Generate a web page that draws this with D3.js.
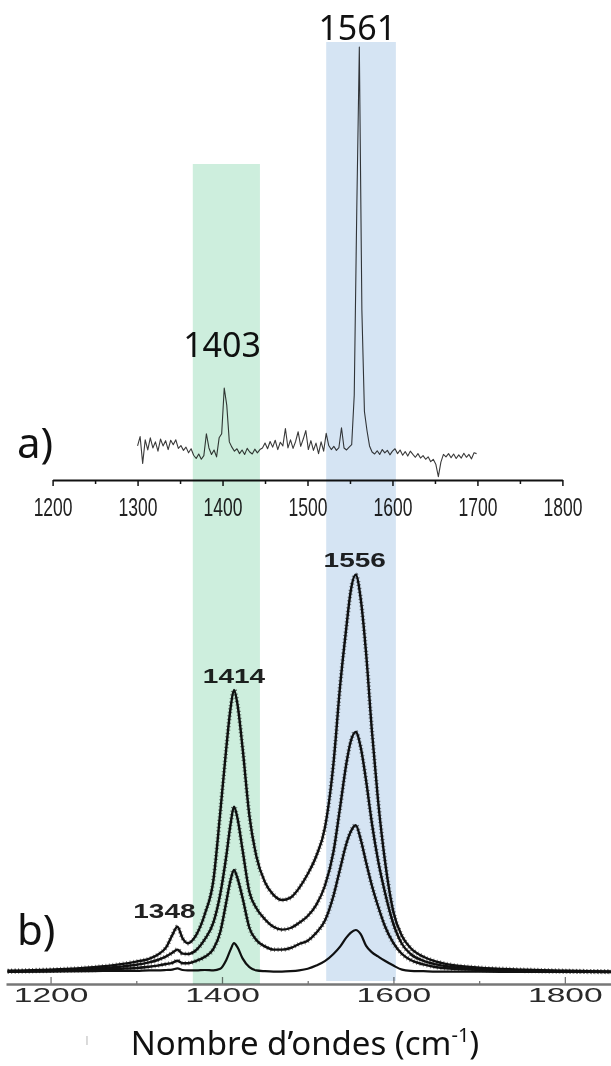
<!DOCTYPE html>
<html>
<head>
<meta charset="utf-8">
<script src="https://cdn.jsdelivr.net/npm/d3@7"></script>
<style>
  body { margin: 0; background: #fff; }
  svg { display: block; }
</style>
</head>
<body>
<div id="chart"></div>
<script>
// ---- a) spectrum, sampled every 3 cm-1 starting at 1300
const aStart = 1300, aStep = 3;
const aIntensity = [
  1.5, 3.8, -2.8, 3.0, 0.5, 3.5, 1.0, 2.5, 0.2, 3.2,
  1.5, 2.8, 0.6, 2.9, 1.8, 3.0, 0.9, 1.6, 0.4, 1.2,
  -0.2, 0.8, -0.8, -1.6, -0.5, -1.8, -0.9, 4.5, 1.0, -0.6,
  0.5, -1.2, 3.5, 4.5, 15.8, 11.5, 2.5, 1.2, 0.2, 0.8,
  -0.4, 0.5, -0.6, 0.9, 0.0, -0.5, 0.7, -0.2, 0.6, 1.0,
  2.2, 0.8, 2.6, 1.2, 2.9, 0.6, 2.4, 1.5, 5.8, 1.0,
  3.0, 0.9, 2.6, 5.0, 1.4, 3.2, 5.3, 0.6, 2.8, 0.4,
  2.2, -0.4, 2.5, 0.2, 4.6, 1.6, 0.6, 1.4, 0.4, 1.1,
  6.0, 1.0, 0.5, 1.2, 1.8, 14, 60, 100, 35, 10,
  5.3, 1.5, 0.0, -0.5, 0.3, -0.6, 0.6, -0.2, 0.4, -0.7,
  0.2, 0.8, -0.4, 0.5, -0.8, 0.1, -1.0, 0.2, -0.6, -1.3,
  -0.4, -1.5, -0.9, -1.8, -1.2, -2.4, -1.8, -3.0, -6.1, -2.5,
  -0.6, -1.2, -0.4, -1.4, -0.5, -1.6, -0.7, -1.5, -0.3, -1.3,
  -0.6, -1.7, -0.2, -0.4
];
const aTicks = [1200, 1300, 1400, 1500, 1600, 1700, 1800];
const aMinorTicks = [1250, 1350, 1450, 1550, 1650, 1750];
const aPeaks = [1561, 1403];

// ---- b) spectra (4 curves)
const bWavenumbers = [1150, 1200, 1250, 1280, 1300, 1315, 1325, 1335, 1342, 1348,
  1354, 1360, 1370, 1380, 1390, 1398, 1405, 1410, 1414, 1418,
  1424, 1432, 1440, 1450, 1460, 1470, 1480, 1490, 1500, 1510,
  1520, 1530, 1538, 1545, 1550, 1556, 1562, 1568, 1575, 1582,
  1590, 1600, 1610, 1620, 1635, 1650, 1670, 1700, 1750, 1800, 1855];
const bCurve1 = [0.3, 0.6, 1.2, 1.9, 2.6, 3.3, 4.3, 6.2, 9.2, 11.3,
  8.4, 7.2, 9.3, 14.5, 23, 40, 56, 66, 70.5, 67,
  56, 39, 29, 22.5, 19.3, 18, 18.6, 21, 24.5, 29,
  36, 52, 72, 86, 95, 99.3, 93, 80, 60, 43,
  28, 15, 9, 6, 3.8, 2.6, 1.7, 1.1, 0.6, 0.3, 0.1];
const bCurve2 = [0.2, 0.4, 0.8, 1.3, 1.8, 2.4, 3.0, 3.9, 4.8, 5.6,
  4.6, 4.5, 5.5, 8.2, 12.4, 19.5, 29, 37, 41.3, 38.5,
  30.5, 20, 16, 13.2, 11.3, 10.6, 11, 12.3, 14, 16.8,
  21.5, 30, 41.5, 52, 57.5, 60, 56, 48, 37, 28,
  20, 12, 7, 4.5, 2.8, 1.9, 1.2, 0.8, 0.4, 0.2, 0.1];
const bCurve3 = [0.1, 0.3, 0.5, 0.8, 1.0, 1.3, 1.6, 2.0, 2.3, 2.8,
  2.2, 2.2, 2.8, 3.8, 5.8, 10, 17.5, 23, 25.5, 23.5,
  18.5, 11, 8, 6.4, 5.6, 5.6, 6, 7, 7.8, 9.8,
  12.8, 19, 26, 32, 35, 36.7, 33, 27.5, 21.5, 16.5,
  11.5, 7.2, 4.5, 3.0, 1.9, 1.2, 0.8, 0.5, 0.3, 0.1, 0.0];
const bCurve4 = [0, 0.1, 0.2, 0.3, 0.3, 0.4, 0.4, 0.5, 0.6, 0.9,
  0.5, 0.4, 0.4, 0.5, 0.4, 0.8, 3.0, 5.6, 7.2, 6.2,
  3.4, 1.2, 0.4, 0.2, 0.1, 0.1, 0.2, 0.4, 0.8, 1.6,
  2.7, 4.5, 6.4, 8.6, 9.8, 10.5, 9.4, 6.6, 4.9, 3.9,
  2.8, 1.6, 0.6, 0.3, 0.2, 0.1, 0.1, 0.1, 0, 0, 0];
const bTicks = [1200, 1400, 1600, 1800];
const bMinorTicks = [1300, 1500, 1700];
const bPeaks = [1556, 1414, 1348];

// ---- highlighted bands, in cm-1 of the a) axis
const bandFrom = [1365, 1522];
const bandTo = [1444, 1604];
const bandColors = ["#cdeedd", "#d5e4f3"];

const width = 611, height = 1066;
const svg = d3.select("#chart").append("svg")
    .attr("width", width)
    .attr("height", height);

const xA = d3.scaleLinear().domain([1200, 1800]).range([52.6, 562.4]);
const yA = d3.scaleLinear().domain([0, 100]).range([452, 47]);
const xB = d3.scaleLinear().domain([1148, 1855]).range([6, 612]);
const yB = d3.scaleLinear().domain([0, 100]).range([972, 572]);

// ---- a) trace
const aData = aIntensity.map((v, i) => [aStart + i * aStep, v]);
svg.append("path")
    .datum(aData)
    .attr("fill", "none")
    .attr("stroke", "#3a3a3a")
    .attr("stroke-width", 1.1)
    .attr("stroke-linejoin", "round")
    .attr("d", d3.line().x(d => xA(d[0])).y(d => yA(d[1])));

// a) axis
const axisA = svg.append("g").attr("transform", "translate(0,480)")
    .call(d3.axisBottom(xA).tickValues(aTicks).tickSize(6).tickSizeOuter(0)
        .tickPadding(12).tickFormat(d3.format("d")));
axisA.select(".domain").attr("stroke", "#111").attr("stroke-width", 1.8);
axisA.selectAll(".tick line").attr("stroke", "#111").attr("stroke-width", 1.5);
axisA.selectAll(".tick text")
    .attr("font-family", "'Liberation Sans', Arial, sans-serif")
    .attr("font-size", 25)
    .attr("fill", "#222")
    .attr("transform", "scale(0.7,1)");
const axisAMinor = svg.append("g").attr("transform", "translate(0,480)")
    .call(d3.axisBottom(xA).tickValues(aMinorTicks).tickSize(4).tickSizeOuter(0).tickFormat(""));
axisAMinor.select(".domain").remove();
axisAMinor.selectAll(".tick line").attr("stroke", "#111").attr("stroke-width", 1.5);

// a) labels
const aLabelY = [40, 357];
const aLabelDx = [-2, -3];
svg.selectAll(".peakA").data(aPeaks).enter().append("text")
    .attr("class", "peakA")
    .attr("x", (d, i) => xA(d) + aLabelDx[i])
    .attr("y", (d, i) => aLabelY[i])
    .attr("text-anchor", "middle")
    .attr("font-family", "'Noto Sans', sans-serif")
    .attr("font-size", 34)
    .attr("fill", "#111")
    .text(d => d);

// ---- b) curves
const lineB = d3.line().x(d => xB(d[0])).y(d => yB(d[1])).curve(d3.curveMonotoneX);
[bCurve1, bCurve2, bCurve3, bCurve4].forEach((vals, k) => {
    const pts = bWavenumbers.map((w, i) => [w, vals[i]]);
    svg.append("path")
        .datum(pts)
        .attr("fill", "none")
        .attr("stroke", "#111")
        .attr("stroke-width", k < 3 ? 2.4 : 2.2)
        .attr("stroke-linejoin", "round")
        .attr("d", lineB);
    if (k < 3) {
        // marker texture of the measured points
        svg.append("path")
            .datum(pts)
            .attr("fill", "none")
            .attr("stroke", "#111")
            .attr("stroke-width", 4.6)
            .attr("stroke-dasharray", "0.9 2.6")
            .attr("opacity", 0.55)
            .attr("d", lineB);
    }
});

// b) axis (ticks pointing up)
const axisB = svg.append("g").attr("transform", "translate(0,984)")
    .call(d3.axisBottom(xB).tickValues(bTicks).tickSize(-7).tickSizeOuter(0)
        .tickPadding(3).tickFormat(d3.format("d")));
axisB.select(".domain").attr("stroke", "#777").attr("stroke-width", 2.6);
axisB.selectAll(".tick line").attr("stroke", "#777").attr("stroke-width", 1.3);
axisB.selectAll(".tick text")
    .attr("font-family", "'Liberation Sans', Arial, sans-serif")
    .attr("font-size", 21)
    .attr("fill", "#2a2a2a")
    .attr("transform", "scale(1.6,1)");
const axisBMinor = svg.append("g").attr("transform", "translate(0,984)")
    .call(d3.axisBottom(xB).tickValues(bMinorTicks).tickSize(-3).tickSizeOuter(0).tickFormat(""));
axisBMinor.select(".domain").remove();
axisBMinor.selectAll(".tick line").attr("stroke", "#777").attr("stroke-width", 1.3);

// b) peak labels
const bLabelY = [567, 683, 918];
const bLabelDx = [-1, 0, -13];
svg.selectAll(".peakB").data(bPeaks).enter().append("text")
    .attr("class", "peakB")
    .attr("transform", (d, i) => `translate(${xB(d) + bLabelDx[i]},${bLabelY[i]}) scale(1.4,1)`)
    .attr("text-anchor", "middle")
    .attr("font-family", "'Liberation Sans', Arial, sans-serif")
    .attr("font-weight", "bold")
    .attr("font-size", 20)
    .attr("fill", "#222")
    .text(d => d);

// panel letters
svg.append("text").attr("x", 17).attr("y", 458)
    .attr("font-family", "'Noto Sans', sans-serif").attr("font-size", 42).attr("fill", "#111")
    .text("a)");
svg.append("text").attr("x", 17).attr("y", 945)
    .attr("font-family", "'Noto Sans', sans-serif").attr("font-size", 42).attr("fill", "#111")
    .text("b)");

// axis title
svg.append("text").attr("x", 87).attr("y", 1043)
    .attr("font-family", "'Noto Sans', sans-serif").attr("font-size", 9).attr("fill", "#999")
    .attr("text-anchor", "middle")
    .text("|");
const title = svg.append("text")
    .attr("x", 305).attr("y", 1055)
    .attr("text-anchor", "middle")
    .attr("font-family", "'Noto Sans', sans-serif")
    .attr("font-size", 33)
    .attr("fill", "#111");
title.append("tspan").text("Nombre d\u2019ondes (cm");
title.append("tspan").attr("font-size", 20).attr("dy", -13).text("-1");
title.append("tspan").attr("dy", 13).text(")");

// ---- highlight bands, multiplied over everything
const bandTop = [164, 42];
const bandBottom = [984, 981];
svg.selectAll(".band").data(bandFrom).enter().append("rect")
    .attr("class", "band")
    .attr("x", d => xA(d))
    .attr("width", (d, i) => xA(bandTo[i]) - xA(d))
    .attr("y", (d, i) => bandTop[i])
    .attr("height", (d, i) => bandBottom[i] - bandTop[i])
    .attr("fill", (d, i) => bandColors[i])
    .style("mix-blend-mode", "multiply");
</script>
</body>
</html>
